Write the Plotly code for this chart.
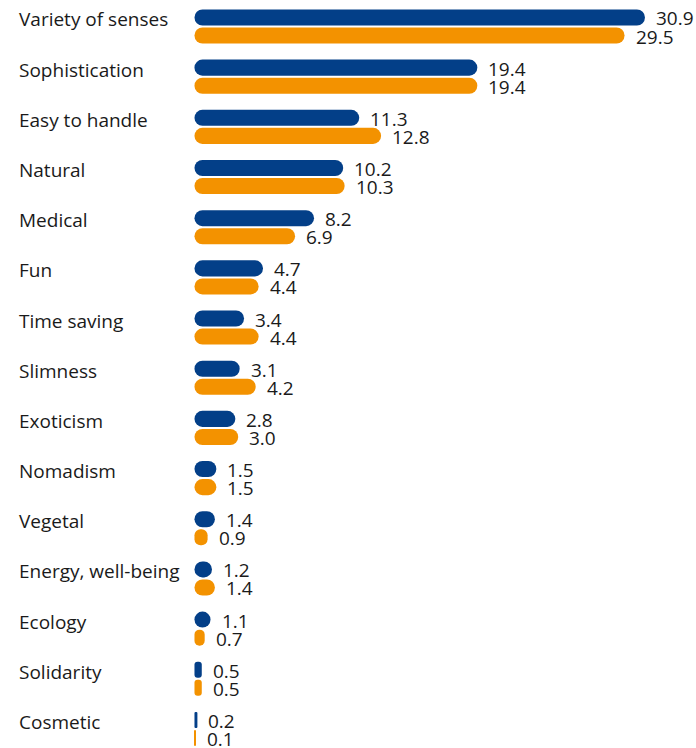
import plotly.graph_objects as go

# Reasons given, share of respondents (%)
categories = [
    "Variety of senses", "Sophistication", "Easy to handle", "Natural", "Medical",
    "Fun", "Time saving", "Slimness", "Exoticism", "Nomadism", "Vegetal",
    "Energy, well-being", "Ecology", "Solidarity", "Cosmetic",
]
series_blue = [30.9, 19.4, 11.3, 10.2, 8.2, 4.7, 3.4, 3.1, 2.8, 1.5, 1.4, 1.2, 1.1, 0.5, 0.2]
series_orange = [29.5, 19.4, 12.8, 10.3, 6.9, 4.4, 4.4, 4.2, 3.0, 1.5, 0.9, 1.4, 0.7, 0.5, 0.1]

BLUE = "#033F88"
ORANGE = "#F39200"
FONT = "Open Sans"
TEXT = "#1a1a1a"

rows = list(range(len(categories)))
fig = go.Figure()


def pill_bars(values, color, offset, width=0.32):
    # an explicit base makes plotly round both ends of every bar
    fig.add_trace(go.Bar(
        y=rows, x=values, base=[0] * len(values),
        orientation="h", offset=offset, width=width,
        marker=dict(color=color, line=dict(width=0), cornerradius=8),
        hoverinfo="skip", showlegend=False,
    ))


pill_bars(series_blue, BLUE, -0.34)
pill_bars(series_orange, ORANGE, 0.02)

annotations = []
for i, name in enumerate(categories):
    annotations.append(dict(
        x=0, xref="paper", y=i - 0.14, yref="y", text=name, showarrow=False,
        xanchor="left", yanchor="middle", xshift=17,
        font=dict(family=FONT, size=19, color=TEXT),
    ))
for i, v in enumerate(series_blue):
    annotations.append(dict(
        x=v, xref="x", y=i - 0.16, yref="y", text=f"{v:.1f}", showarrow=False,
        xanchor="left", yanchor="middle", xshift=9,
        font=dict(family=FONT, size=19, color=TEXT),
    ))
for i, v in enumerate(series_orange):
    annotations.append(dict(
        x=v, xref="x", y=i + 0.2, yref="y", text=f"{v:.1f}", showarrow=False,
        xanchor="left", yanchor="middle", xshift=9,
        font=dict(family=FONT, size=19, color=TEXT),
    ))

fig.update_layout(
    width=696, height=748,
    margin=dict(l=0, r=0, t=0, b=0),
    paper_bgcolor="white", plot_bgcolor="white",
    barmode="overlay",
    xaxis=dict(range=[-13.34, 34.40], visible=False, fixedrange=True),
    yaxis=dict(range=[14.379, -0.528], visible=False, fixedrange=True),
    annotations=annotations,
    font=dict(family=FONT),
)

fig.write_html("out.html")
